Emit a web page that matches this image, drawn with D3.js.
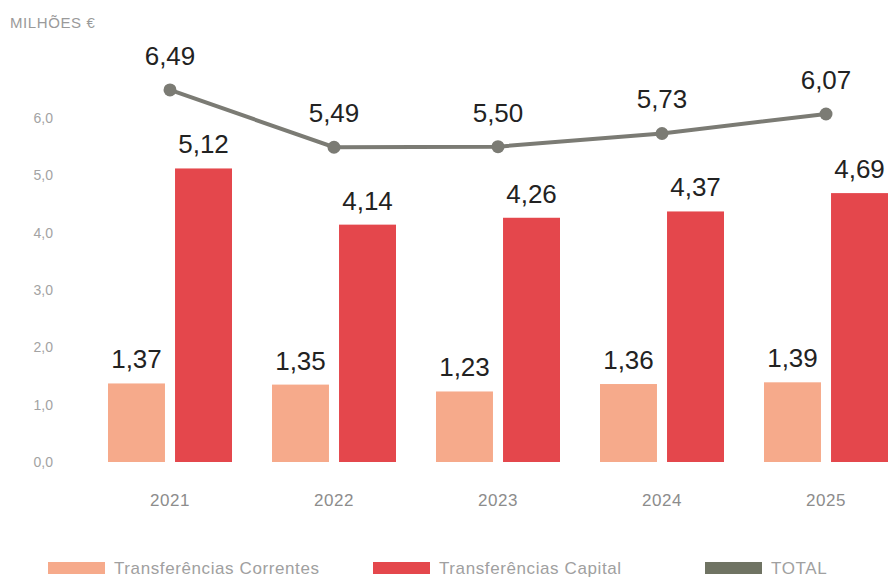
<!DOCTYPE html>
<html>
<head>
<meta charset="utf-8">
<script src="https://cdn.jsdelivr.net/npm/d3@7"></script>
<style>
  html, body { margin: 0; padding: 0; background: #fff; }
  svg { display: block; }
</style>
</head>
<body>
<svg id="chart" width="890" height="578"></svg>
<script>
const years = ["2021", "2022", "2023", "2024", "2025"];
const correntes = [1.37, 1.35, 1.23, 1.36, 1.39];
const capital = [5.12, 4.14, 4.26, 4.37, 4.69];
const total = [6.49, 5.49, 5.50, 5.73, 6.07];
const yTicks = [0, 1, 2, 3, 4, 5, 6];
const seriesNames = ["Transferências Correntes", "Transferências Capital", "TOTAL"];
const unitLabel = "MILHÕES €";

const colors = { c: "#f6aa8b", k: "#e4474c", t: "#7b7b74", tLegend: "#6f7363" };
const fmt = v => v.toFixed(2).replace(".", ",");
const fmt1 = v => v.toFixed(1).replace(".", ",");

const svg = d3.select("#chart");

const x = d3.scaleBand().domain(years).range([88, 908]).paddingInner(0.244).paddingOuter(0.122);
const xs = d3.scaleBand().domain(["c", "k"]).range([0, x.bandwidth()]).paddingInner(0.15).paddingOuter(0);
const y = d3.scaleLinear().domain([0, 6]).range([462, 118]);

// unit label
svg.append("text").attr("x", 10).attr("y", 28)
  .attr("font-family", "Liberation Sans Narrow, Liberation Sans, Arial, sans-serif").attr("font-size", 15)
  .attr("letter-spacing", 0.6).attr("fill", "#9a9a9a").text(unitLabel);

// y axis (labels only)
const yAxis = d3.axisLeft(y).tickValues(yTicks).tickFormat(fmt1).tickSize(0).tickPadding(0);
const gy = svg.append("g").attr("transform", "translate(53,0)").call(yAxis);
gy.select(".domain").remove();
gy.selectAll("text").attr("font-family", "Liberation Sans, Arial, sans-serif")
  .attr("font-size", 14).attr("fill", "#a3a3a3");

// x axis (labels only)
const xAxis = d3.axisBottom(x).tickSize(0).tickPadding(0);
const gx = svg.append("g").attr("transform", "translate(0,494)").call(xAxis);
gx.select(".domain").remove();
gx.selectAll("text").attr("font-family", "Liberation Sans, Arial, sans-serif")
  .attr("font-size", 17).attr("letter-spacing", 0.5).attr("fill", "#8c8c8c").attr("dy", "0.71em");

// bars
const groups = svg.append("g").selectAll("g").data(years).join("g")
  .attr("transform", d => `translate(${x(d)},0)`);

groups.append("rect")
  .attr("x", xs("c")).attr("width", xs.bandwidth())
  .attr("y", (d, i) => y(correntes[i])).attr("height", (d, i) => y(0) - y(correntes[i]))
  .attr("fill", colors.c);
groups.append("rect")
  .attr("x", xs("k")).attr("width", xs.bandwidth())
  .attr("y", (d, i) => y(capital[i])).attr("height", (d, i) => y(0) - y(capital[i]))
  .attr("fill", colors.k);

const labelFont = "Liberation Sans, Arial, Helvetica, sans-serif";
groups.append("text")
  .attr("x", xs("c") + xs.bandwidth() / 2).attr("y", (d, i) => y(correntes[i]) - 15)
  .attr("text-anchor", "middle").attr("font-family", labelFont).attr("font-size", 26)
  .attr("fill", "#222").text((d, i) => fmt(correntes[i]));
groups.append("text")
  .attr("x", xs("k") + xs.bandwidth() / 2).attr("y", (d, i) => y(capital[i]) - 15)
  .attr("text-anchor", "middle").attr("font-family", labelFont).attr("font-size", 26)
  .attr("fill", "#222").text((d, i) => fmt(capital[i]));

// total line
const cx = d => x(d) + x.bandwidth() / 2;
const line = d3.line().x((d, i) => cx(years[i])).y(d => y(d));
svg.append("path").datum(total).attr("d", line)
  .attr("fill", "none").attr("stroke", colors.t).attr("stroke-width", 4);
svg.append("g").selectAll("circle").data(total).join("circle")
  .attr("cx", (d, i) => cx(years[i])).attr("cy", d => y(d)).attr("r", 6.5)
  .attr("fill", colors.t);
svg.append("g").selectAll("text").data(total).join("text")
  .attr("x", (d, i) => cx(years[i])).attr("y", d => y(d) - 25)
  .attr("text-anchor", "middle").attr("font-family", labelFont).attr("font-size", 26)
  .attr("fill", "#222").text(d => fmt(d));

// legend
const legendX = [48, 373, 705];
const legendColors = [colors.c, colors.k, colors.tLegend];
const lg = svg.append("g").selectAll("g").data(seriesNames).join("g")
  .attr("transform", (d, i) => `translate(${legendX[i]},562)`);
lg.append("rect").attr("width", 57).attr("height", 12).attr("fill", (d, i) => legendColors[i]);
lg.append("text").attr("x", 66).attr("y", 12)
  .attr("font-family", "Liberation Sans Narrow, Liberation Sans, Arial, sans-serif")
  .attr("font-size", 17).attr("letter-spacing", 0.6).attr("fill", "#a0a0a0").text(d => d);
</script>
</body>
</html>
